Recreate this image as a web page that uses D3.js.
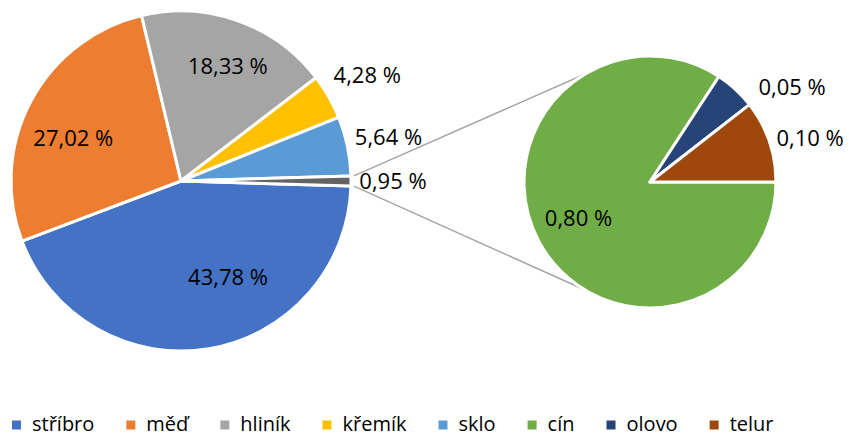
<!DOCTYPE html>
<html lang="cs">
<head>
<meta charset="utf-8">
<script src="https://cdn.jsdelivr.net/npm/d3@7"></script>
<style>
  html, body { margin: 0; padding: 0; background: #fff; }
  svg { display: block; font-family: "Open Sans", "Noto Sans", sans-serif; }
</style>
</head>
<body>
<svg id="chart" width="849" height="437"></svg>
<script>
// Composition by material (percent of total mass)
const categories = ["stříbro", "měď", "hliník", "křemík", "sklo", "cín", "olovo", "telur"];
const values     = [43.78, 27.02, 18.33, 4.28, 5.64, 0.80, 0.05, 0.10];
const colors     = ["#4472C4", "#ED7D31", "#A5A5A5", "#FFC000", "#5B9BD5", "#70AD47", "#264478", "#9E480E"];
// The last three materials are grouped into one slice of the main pie and split out in the second pie
const mainCount  = 5;
const otherColor = "#636363";

// Layout
const W = 849, H = 437;
const main = { cx: 181, cy: 181, r: 170 };
const sub  = { cx: 650, cy: 182, r: 126 };
const labelFont = 22, legendFont = 20;
// label placement per slice: angular shift (deg) from the slice middle, distance from centre
const mainLabelPos = [
  { shift: -16.6, dist: 107 }, { shift: -6.2, dist: 116 }, { shift: 2.6, dist: 124 },
  { shift: 0.2, dist: 214 },   { shift: 0, dist: 212 },    { shift: 0, dist: 212 }
];
const subLabelPos = [
  { shift: 1.8, dist: 80 }, { shift: 13.6, dist: 171 }, { shift: 3.6, dist: 166 }
];
const connectorSpread = 59; // deg either side of 9 o'clock on the second pie

const fmt = d3.formatLocale({ decimal: ",", thousands: " ", grouping: [3], currency: ["", ""] }).format(".2f");
const pct = v => fmt(v) + " %";

const svg = d3.select("#chart");

// ---- data for the two pies
const mainData = categories.slice(0, mainCount).map((c, i) => ({ name: c, value: values[i], color: colors[i] }));
const subData  = categories.slice(mainCount).map((c, i) => ({ name: c, value: values[mainCount + i], color: colors[mainCount + i] }));
const otherValue = d3.sum(subData, d => d.value);
mainData.push({ name: "other", value: otherValue, color: otherColor });

const total = d3.sum(mainData, d => d.value);
const otherSpan = otherValue / total * 2 * Math.PI;
const mainStart = Math.PI / 2 + otherSpan / 2;

const mainPie = d3.pie().sort(null).value(d => d.value)
  .startAngle(mainStart).endAngle(mainStart + 2 * Math.PI);
const subPie = d3.pie().sort(null).value(d => d.value)
  .startAngle(Math.PI / 2).endAngle(Math.PI / 2 + 2 * Math.PI);

const mainArcs = mainPie(mainData);
const subArcs  = subPie(subData);

const polar = (c, ang, d) => [c.cx + d * Math.sin(ang), c.cy - d * Math.cos(ang)];
const rad = deg => deg * Math.PI / 180;

// ---- connector lines between the grouped slice and the second pie
const otherArc = mainArcs[mainArcs.length - 1];
const p1 = polar(main, otherArc.startAngle, main.r + 3);
const p2 = polar(main, otherArc.endAngle, main.r + 3);
const q1 = polar(sub, rad(270 + connectorSpread), sub.r);
const q2 = polar(sub, rad(270 - connectorSpread), sub.r);
svg.append("g")
  .selectAll("line")
  .data([[p1, q1], [p2, q2]])
  .join("line")
  .attr("x1", d => d[0][0]).attr("y1", d => d[0][1])
  .attr("x2", d => d[1][0]).attr("y2", d => d[1][1])
  .attr("stroke", "#A6A6A6").attr("stroke-width", 1.5);

// ---- pies
function drawPie(c, arcs) {
  const arc = d3.arc().innerRadius(0).outerRadius(c.r);
  svg.append("g")
    .attr("transform", `translate(${c.cx},${c.cy})`)
    .selectAll("path")
    .data(arcs)
    .join("path")
    .attr("d", arc)
    .attr("fill", d => d.data.color)
    .attr("stroke", "#fff")
    .attr("stroke-width", 3)
    .attr("stroke-linejoin", "round");
}
drawPie(main, mainArcs);
drawPie(sub, subArcs);

// ---- value labels
function drawLabels(c, arcs, pos) {
  svg.append("g")
    .selectAll("text")
    .data(arcs)
    .join("text")
    .attr("x", (d, i) => polar(c, (d.startAngle + d.endAngle) / 2 + rad(pos[i].shift), pos[i].dist)[0])
    .attr("y", (d, i) => polar(c, (d.startAngle + d.endAngle) / 2 + rad(pos[i].shift), pos[i].dist)[1] + labelFont * 0.36)
    .attr("text-anchor", "middle")
    .attr("font-size", labelFont)
    .attr("fill", "#000")
    .text(d => pct(d.value));
}
drawLabels(main, mainArcs, mainLabelPos);
drawLabels(sub, subArcs, subLabelPos);

// ---- legend
const legend = svg.append("g").attr("transform", "translate(12,425)");
let x = 0;
categories.forEach((c, i) => {
  const g = legend.append("g").attr("transform", `translate(${x},0)`);
  g.append("rect").attr("x", 0).attr("y", -4.5).attr("width", 9).attr("height", 9).attr("fill", colors[i]);
  const t = g.append("text").attr("x", 20).attr("y", 6).attr("font-size", legendFont).attr("fill", "#000").text(c);
  x += 20 + t.node().getComputedTextLength() + 32;
});
</script>
</body>
</html>
